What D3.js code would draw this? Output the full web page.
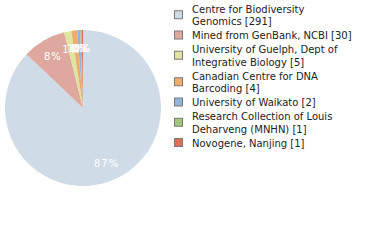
<!DOCTYPE html>
<html><head><meta charset="utf-8">
<script src="https://cdn.jsdelivr.net/npm/d3@7"></script>
<style>body{margin:0;background:#fff;}svg{display:block;}</style>
</head><body>
<script>
const labels = [
  ["Centre for Biodiversity", "Genomics [291]"],
  ["Mined from GenBank, NCBI [30]"],
  ["University of Guelph, Dept of", "Integrative Biology [5]"],
  ["Canadian Centre for DNA", "Barcoding [4]"],
  ["University of Waikato [2]"],
  ["Research Collection of Louis", "Deharveng (MNHN) [1]"],
  ["Novogene, Nanjing [1]"]
];
const values = [291, 30, 5, 4, 2, 1, 1];
const colors = ["#cfdbe6", "#dfa89e", "#dfe59f", "#f0ac6c", "#93b4d8", "#a4c67a", "#e07058"];

const W = 380, H = 240;
const svg = d3.select("body").append("svg").attr("width", W).attr("height", H);
const total = d3.sum(values);
const cx = 83, cy = 108, R = 78;

const pie = d3.pie().sort(null).value(d => d);
const arcs = pie(values);
const arc = d3.arc().innerRadius(0).outerRadius(R);
const labelArc = d3.arc().innerRadius(60).outerRadius(60);

const g = svg.append("g").attr("transform", `translate(${cx},${cy})`);
g.selectAll("path").data(arcs).enter().append("path")
  .attr("d", arc).attr("fill", (d, i) => colors[i]);
g.selectAll("text").data(arcs).enter().append("text")
  .attr("transform", d => `translate(${labelArc.centroid(d)})`)
  .attr("text-anchor", "middle").attr("dy", "0.35em")
  .attr("font-family", "DejaVu Sans").attr("font-size", 10)
  .attr("letter-spacing", 1)
  .attr("fill", "#fff")
  .text(d => Math.floor(d.value / total * 100) + "%");

const lineH = 12.5, gap = 1.5;
const leg = svg.append("g");
let y = 9;
labels.forEach((lines, i) => {
  const n = lines.length;
  const midY = y + (n - 1) * lineH / 2;
  leg.append("rect").attr("x", 174.5).attr("y", midY - 4.5).attr("width", 8).attr("height", 8)
    .attr("fill", colors[i]).attr("stroke", "#7a7a7a").attr("stroke-width", 1);
  lines.forEach((t, j) => {
    leg.append("text").attr("x", 192).attr("y", y + j * lineH).attr("dy", "0.35em")
      .attr("font-family", "DejaVu Sans").attr("font-size", 10).attr("fill", "#222")
      .text(t);
  });
  y += n * lineH + gap;
});
</script>
</body></html>
